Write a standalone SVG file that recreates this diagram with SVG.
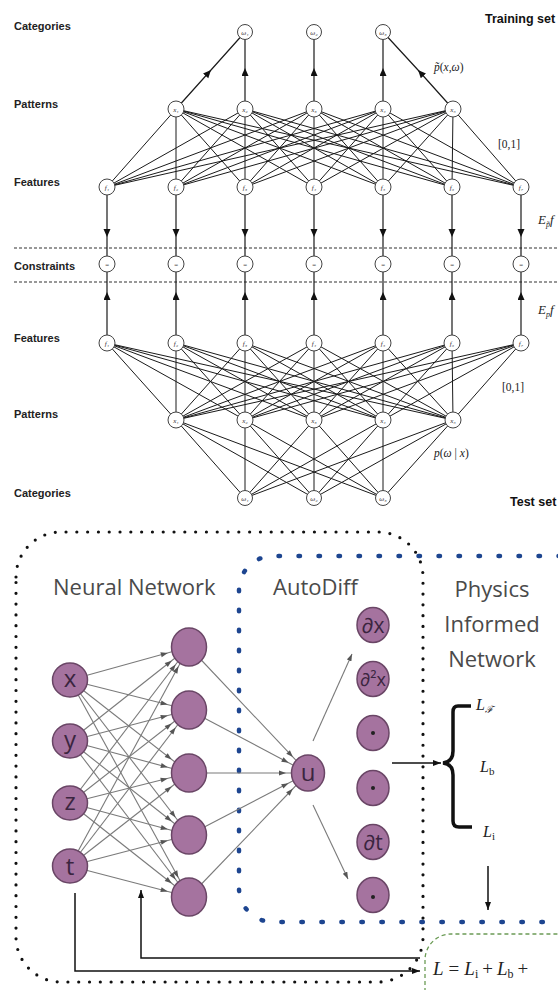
<svg xmlns="http://www.w3.org/2000/svg" width="558" height="990" viewBox="0 0 558 990">
<style>
.lbl{font-family:"Liberation Sans",Arial,sans-serif;font-weight:bold;font-size:11px;fill:#222}
.set{font-family:"Liberation Sans",Arial,sans-serif;font-weight:bold;font-size:12.5px;fill:#111}
.tn circle{fill:#fff;stroke:#444;stroke-width:1}
.tn text{font-family:"Liberation Serif","DejaVu Serif",serif;font-style:italic;font-size:7px;fill:#333;text-anchor:middle}
.edge{stroke:#1a1a1a;stroke-width:1;fill:none}
.arr{stroke:#1a1a1a;stroke-width:1.2;fill:none;marker-mid:url(#ah)}
.dash{stroke:#333;stroke-width:1.2;stroke-dasharray:3 2}
.mx{font-family:"Liberation Serif","DejaVu Serif",serif;font-size:11.5px;fill:#222}
.nn{fill:#a5739f;stroke:#6a4666;stroke-width:1.5}
.nt{font-family:"Open Sans","DejaVu Sans",sans-serif;font-size:24px;fill:#3b2540;text-anchor:middle}
.dt{font-family:"Open Sans","DejaVu Sans",sans-serif;font-size:21px;fill:#3b2540;text-anchor:middle}
.title{font-family:"Open Sans","DejaVu Sans",sans-serif;font-size:22px;fill:#4a4a4a}
.gl{stroke:#7a7a7a;stroke-width:1.1;marker-end:url(#ga)}
.bl{stroke:#111;stroke-width:1.5;fill:none;marker-end:url(#ba)}
.lm{font-family:"Liberation Serif","DejaVu Serif",serif;font-size:16px;fill:#222}
</style>
<defs>
<marker id="ah" markerUnits="userSpaceOnUse" markerWidth="10" markerHeight="8" refX="8" refY="3.5" orient="auto"><path d="M0,0 L8,3.5 L0,7 Z" fill="#111"/></marker>
<marker id="ga" markerUnits="userSpaceOnUse" markerWidth="32" markerHeight="6" refX="29" refY="2.5" orient="auto" overflow="visible"><path d="M0,0 L7,2.5 L0,5 Z" fill="#555"/></marker>
<marker id="gb" markerUnits="userSpaceOnUse" markerWidth="8" markerHeight="6" refX="7" refY="2.5" orient="auto"><path d="M0,0 L7,2.5 L0,5 Z" fill="#555"/></marker>
<marker id="ba" markerUnits="userSpaceOnUse" markerWidth="9" markerHeight="7" refX="8" refY="3" orient="auto"><path d="M0,0 L8,3 L0,6 Z" fill="#111"/></marker>
</defs>
<rect width="558" height="990" fill="#fff"/>

<!-- ===== TOP: layer labels ===== -->
<g id="labels">
<text class="lbl" x="14" y="30">Categories</text>
<text class="lbl" x="14" y="108">Patterns</text>
<text class="lbl" x="14" y="186">Features</text>
<text class="lbl" x="14" y="270">Constraints</text>
<text class="lbl" x="14" y="342">Features</text>
<text class="lbl" x="14" y="418">Patterns</text>
<text class="lbl" x="14" y="497">Categories</text>
<text class="set" x="485" y="23">Training set</text>
<text class="set" x="510" y="506">Test set</text>
</g>

<line class="dash" x1="14" y1="248" x2="558" y2="248"/>
<line class="dash" x1="14" y1="282" x2="558" y2="282"/>

<g id="connectors-top">
<path class="edge" d="M176 109L107 187M176 109L176 187M176 109L245 187M176 109L314 187M176 109L383 187M176 109L452 187M176 109L521 187
M245 109L107 187M245 109L176 187M245 109L245 187M245 109L314 187M245 109L383 187M245 109L452 187M245 109L521 187
M314 109L107 187M314 109L176 187M314 109L245 187M314 109L314 187M314 109L383 187M314 109L452 187M314 109L521 187
M383 109L107 187M383 109L176 187M383 109L245 187M383 109L314 187M383 109L383 187M383 109L452 187M383 109L521 187
M453 109L107 187M453 109L176 187M453 109L245 187M453 109L314 187M453 109L383 187M453 109L452 187M453 109L521 187"/>
<path class="edge" d="M107 343L176 420M107 343L245 420M107 343L314 420M107 343L383 420M107 343L453 420
M176 343L176 420M176 343L245 420M176 343L314 420M176 343L383 420M176 343L453 420
M245 343L176 420M245 343L245 420M245 343L314 420M245 343L383 420M245 343L453 420
M314 343L176 420M314 343L245 420M314 343L314 420M314 343L383 420M314 343L453 420
M383 343L176 420M383 343L245 420M383 343L314 420M383 343L383 420M383 343L453 420
M452 343L176 420M452 343L245 420M452 343L314 420M452 343L383 420M452 343L453 420
M521 343L176 420M521 343L245 420M521 343L314 420M521 343L383 420M521 343L453 420"/>
<path class="edge" d="M176 420L245 498M176 420L314 498M176 420L383 498
M245 420L245 498M245 420L314 498M245 420L383 498
M314 420L245 498M314 420L314 498M314 420L383 498
M383 420L245 498M383 420L314 498M383 420L383 498
M453 420L245 498M453 420L314 498M453 420L383 498"/>
<path class="arr" d="M176 109L211 70L245 32"/>
<path class="arr" d="M245 109L245 68L245 32"/>
<path class="arr" d="M314 109L314 68L314 32"/>
<path class="arr" d="M383 109L383 68L383 32"/>
<path class="arr" d="M453 109L418 70L383 32"/>
<path class="arr" d="M107 195L107 237L107 256"/>
<path class="arr" d="M176 195L176 237L176 256"/>
<path class="arr" d="M245 195L245 237L245 256"/>
<path class="arr" d="M314 195L314 237L314 256"/>
<path class="arr" d="M383 195L383 237L383 256"/>
<path class="arr" d="M452 195L452 237L452 256"/>
<path class="arr" d="M521 195L521 237L521 256"/>
<path class="arr" d="M107 335L107 292L107 272"/>
<path class="arr" d="M176 335L176 292L176 272"/>
<path class="arr" d="M245 335L245 292L245 272"/>
<path class="arr" d="M314 335L314 292L314 272"/>
<path class="arr" d="M383 335L383 292L383 272"/>
<path class="arr" d="M452 335L452 292L452 272"/>
<path class="arr" d="M521 335L521 292L521 272"/>
</g>

<!-- top nodes -->
<g class="tn">
<g id="t-w1"><circle cx="245" cy="32" r="7.5"/><text x="245" y="34.5">ω₁</text></g>
<g id="t-w2"><circle cx="314" cy="32" r="7.5"/><text x="314" y="34.5">ω₂</text></g>
<g id="t-w3"><circle cx="383" cy="32" r="7.5"/><text x="383" y="34.5">ω₃</text></g>
<g id="t-x1"><circle cx="176" cy="109" r="8"/><text x="176" y="111.5">x₁</text></g>
<g id="t-x2"><circle cx="245" cy="109" r="8"/><text x="245" y="111.5">x₂</text></g>
<g id="t-x3"><circle cx="314" cy="109" r="8"/><text x="314" y="111.5">x₃</text></g>
<g id="t-x4"><circle cx="383" cy="109" r="8"/><text x="383" y="111.5">x₄</text></g>
<g id="t-x5"><circle cx="453" cy="109" r="8"/><text x="453" y="111.5">x₅</text></g>
<g id="t-f1"><circle cx="107" cy="187" r="8"/><text x="107" y="189.5">f₁</text></g>
<g id="t-f2"><circle cx="176" cy="187" r="8"/><text x="176" y="189.5">f₂</text></g>
<g id="t-f3"><circle cx="245" cy="187" r="8"/><text x="245" y="189.5">f₃</text></g>
<g id="t-f4"><circle cx="314" cy="187" r="8"/><text x="314" y="189.5">f₄</text></g>
<g id="t-f5"><circle cx="383" cy="187" r="8"/><text x="383" y="189.5">f₅</text></g>
<g id="t-f6"><circle cx="452" cy="187" r="8"/><text x="452" y="189.5">f₆</text></g>
<g id="t-f7"><circle cx="521" cy="187" r="8"/><text x="521" y="189.5">f₇</text></g>
<g id="c1"><circle cx="107" cy="264" r="8"/><text x="107" y="266.5">=</text></g>
<g id="c2"><circle cx="176" cy="264" r="8"/><text x="176" y="266.5">=</text></g>
<g id="c3"><circle cx="245" cy="264" r="8"/><text x="245" y="266.5">=</text></g>
<g id="c4"><circle cx="314" cy="264" r="8"/><text x="314" y="266.5">=</text></g>
<g id="c5"><circle cx="383" cy="264" r="8"/><text x="383" y="266.5">=</text></g>
<g id="c6"><circle cx="452" cy="264" r="8"/><text x="452" y="266.5">=</text></g>
<g id="c7"><circle cx="521" cy="264" r="8"/><text x="521" y="266.5">=</text></g>
<g id="b-f1"><circle cx="107" cy="343" r="8"/><text x="107" y="345.5">f₁</text></g>
<g id="b-f2"><circle cx="176" cy="343" r="8"/><text x="176" y="345.5">f₂</text></g>
<g id="b-f3"><circle cx="245" cy="343" r="8"/><text x="245" y="345.5">f₃</text></g>
<g id="b-f4"><circle cx="314" cy="343" r="8"/><text x="314" y="345.5">f₄</text></g>
<g id="b-f5"><circle cx="383" cy="343" r="8"/><text x="383" y="345.5">f₅</text></g>
<g id="b-f6"><circle cx="452" cy="343" r="8"/><text x="452" y="345.5">f₆</text></g>
<g id="b-f7"><circle cx="521" cy="343" r="8"/><text x="521" y="345.5">f₇</text></g>
<g id="b-x1"><circle cx="176" cy="420" r="8"/><text x="176" y="422.5">x₁</text></g>
<g id="b-x2"><circle cx="245" cy="420" r="8"/><text x="245" y="422.5">x₂</text></g>
<g id="b-x3"><circle cx="314" cy="420" r="8"/><text x="314" y="422.5">x₃</text></g>
<g id="b-x4"><circle cx="383" cy="420" r="8"/><text x="383" y="422.5">x₄</text></g>
<g id="b-x5"><circle cx="453" cy="420" r="8"/><text x="453" y="422.5">x₅</text></g>
<g id="b-w1"><circle cx="245" cy="498" r="7.5"/><text x="245" y="500.5">ω₁</text></g>
<g id="b-w2"><circle cx="314" cy="498" r="7.5"/><text x="314" y="500.5">ω₂</text></g>
<g id="b-w3"><circle cx="383" cy="498" r="7.5"/><text x="383" y="500.5">ω₃</text></g>
</g>

<g id="top-math">
<text class="mx" x="434" y="71"><tspan font-style="italic">p̃</tspan>(<tspan font-style="italic">x</tspan>,<tspan font-style="italic">ω</tspan>)</text>
<text class="mx" x="498" y="148">[0,1]</text>
<text class="mx" x="502" y="391">[0,1]</text>
<text class="mx" x="434" y="457"><tspan font-style="italic">p</tspan>(<tspan font-style="italic">ω</tspan> | <tspan font-style="italic">x</tspan>)</text>
<text class="mx" x="538" y="224" style="font-size:13px"><tspan font-style="italic">E</tspan><tspan font-size="8" dy="3" font-style="italic">p̃</tspan><tspan dy="-3" font-style="italic">f</tspan></text>
<text class="mx" x="538" y="314" style="font-size:13px"><tspan font-style="italic">E</tspan><tspan font-size="8" dy="3" font-style="italic">p</tspan><tspan dy="-3" font-style="italic">f</tspan></text>
</g>

<!-- ===== BOTTOM ===== -->
<g id="containers">
<path d="M16 577 A45 45 0 0 1 61 532 H378 A45 45 0 0 1 423 577 V937 A45 45 0 0 1 378 982 H61 A45 45 0 0 1 16 937 Z" fill="none" stroke="#111" stroke-width="3.2" stroke-dasharray="0 10.8" stroke-linecap="round"/>
<path d="M600 556 H273 A34 34 0 0 0 239 590 V888 A34 34 0 0 0 273 922 H600" fill="none" stroke="#1d4590" stroke-width="4.5" stroke-dasharray="1.5 18.5" stroke-linecap="round"/>
<path d="M425 992 V960 A26 26 0 0 1 451 934 H600" fill="none" stroke="#6b9b55" stroke-width="1.3" stroke-dasharray="4 3"/>
</g>

<g id="titles">
<text class="title" x="53" y="595">Neural Network</text>
<text class="title" x="273" y="595">AutoDiff</text>
<text class="title" x="492" y="597" text-anchor="middle">Physics</text>
<text class="title" x="492" y="632" text-anchor="middle">Informed</text>
<text class="title" x="492" y="667" text-anchor="middle">Network</text>
</g>

<g id="connectors-nn">
<line class="gl" x1="70" y1="680" x2="189" y2="647"/>
<line class="gl" x1="70" y1="680" x2="189" y2="710"/>
<line class="gl" x1="70" y1="680" x2="189" y2="773"/>
<line class="gl" x1="70" y1="680" x2="189" y2="835"/>
<line class="gl" x1="70" y1="680" x2="189" y2="897"/>
<line class="gl" x1="70" y1="741" x2="189" y2="647"/>
<line class="gl" x1="70" y1="741" x2="189" y2="710"/>
<line class="gl" x1="70" y1="741" x2="189" y2="773"/>
<line class="gl" x1="70" y1="741" x2="189" y2="835"/>
<line class="gl" x1="70" y1="741" x2="189" y2="897"/>
<line class="gl" x1="70" y1="803" x2="189" y2="647"/>
<line class="gl" x1="70" y1="803" x2="189" y2="710"/>
<line class="gl" x1="70" y1="803" x2="189" y2="773"/>
<line class="gl" x1="70" y1="803" x2="189" y2="835"/>
<line class="gl" x1="70" y1="803" x2="189" y2="897"/>
<line class="gl" x1="70" y1="866" x2="189" y2="647"/>
<line class="gl" x1="70" y1="866" x2="189" y2="710"/>
<line class="gl" x1="70" y1="866" x2="189" y2="773"/>
<line class="gl" x1="70" y1="866" x2="189" y2="835"/>
<line class="gl" x1="70" y1="866" x2="189" y2="897"/>
<line class="gl" x1="189" y1="647" x2="308" y2="773"/>
<line class="gl" x1="189" y1="710" x2="308" y2="773"/>
<line class="gl" x1="189" y1="773" x2="308" y2="773"/>
<line class="gl" x1="189" y1="835" x2="308" y2="773"/>
<line class="gl" x1="189" y1="897" x2="308" y2="773"/>
<line x1="313" y1="741" x2="352" y2="654" stroke="#7a7a7a" stroke-width="1.1" marker-end="url(#gb)"/>
<line x1="313" y1="805" x2="348" y2="879" stroke="#7a7a7a" stroke-width="1.1" marker-end="url(#gb)"/>
<line class="bl" x1="392" y1="763" x2="441" y2="763"/>
<line class="bl" x1="488" y1="866" x2="488" y2="910"/>
<path class="bl" d="M75 893 V971 H420"/>
<path class="bl" d="M420 958 H141 V890"/>
</g>

<g id="nn-in">
<g id="n-x"><ellipse class="nn" cx="70" cy="680" rx="17.5" ry="17"/><text class="nt" x="70" y="687">x</text></g>
<g id="n-y"><ellipse class="nn" cx="70" cy="741" rx="17.5" ry="17"/><text class="nt" x="70" y="748">y</text></g>
<g id="n-z"><ellipse class="nn" cx="70" cy="803" rx="17.5" ry="17"/><text class="nt" x="70" y="810">z</text></g>
<g id="n-t"><ellipse class="nn" cx="70" cy="866" rx="17.5" ry="17"/><text class="nt" x="70" y="875">t</text></g>
</g>
<g id="nn-hidden">
<g id="h1"><ellipse class="nn" cx="189" cy="647" rx="17.5" ry="19"/></g>
<g id="h2"><ellipse class="nn" cx="189" cy="710" rx="17.5" ry="19"/></g>
<g id="h3"><ellipse class="nn" cx="189" cy="773" rx="17.5" ry="19"/></g>
<g id="h4"><ellipse class="nn" cx="189" cy="835" rx="17.5" ry="19"/></g>
<g id="h5"><ellipse class="nn" cx="189" cy="897" rx="17.5" ry="19"/></g>
</g>
<g id="n-u"><ellipse class="nn" cx="308" cy="773" rx="16.5" ry="18"/><text class="nt" x="308" y="781">u</text></g>
<g id="autodiff">
<g id="d1"><ellipse class="nn" cx="373" cy="625" rx="16" ry="17.5"/><text class="dt" x="373" y="633">∂x</text></g>
<g id="d2"><ellipse class="nn" cx="373" cy="679" rx="16" ry="17.5"/><text class="dt" x="373" y="686" style="font-size:18px">∂²x</text></g>
<g id="d3"><ellipse class="nn" cx="373" cy="733" rx="16" ry="17.5"/><circle cx="373" cy="733" r="2" fill="#222"/></g>
<g id="d4"><ellipse class="nn" cx="373" cy="788" rx="16" ry="17.5"/><circle cx="373" cy="788" r="2" fill="#222"/></g>
<g id="d5"><ellipse class="nn" cx="373" cy="842" rx="16" ry="17.5"/><text class="dt" x="373" y="850">∂t</text></g>
<g id="d6"><ellipse class="nn" cx="373" cy="895" rx="16" ry="17.5"/><circle cx="373" cy="897" r="2" fill="#222"/></g>
</g>

<g id="loss">
<path d="M471 706 H458 Q453 706 453 712 V751 Q453 762 443 763 Q453 764 453 775 V821 Q453 827 459 827 H472" fill="none" stroke="#111" stroke-width="3.5"/>
<text class="lm" x="476" y="710"><tspan font-style="italic">L</tspan><tspan font-size="10" dy="3" font-style="italic">ℱ</tspan></text>
<text class="lm" x="480" y="772"><tspan font-style="italic">L</tspan><tspan font-size="11" dy="3">b</tspan></text>
<text class="lm" x="483" y="837"><tspan font-style="italic">L</tspan><tspan font-size="11" dy="3">i</tspan></text>
<text class="lm" x="433" y="975" style="font-size:19px"><tspan font-style="italic">L</tspan><tspan dx="5">=</tspan><tspan dx="5" font-style="italic">L</tspan><tspan font-size="12" dy="3">i</tspan><tspan dx="4" dy="-3">+</tspan><tspan dx="4" font-style="italic">L</tspan><tspan font-size="12" dy="3">b</tspan><tspan dx="4" dy="-3">+</tspan></text>
</g>
</svg>
